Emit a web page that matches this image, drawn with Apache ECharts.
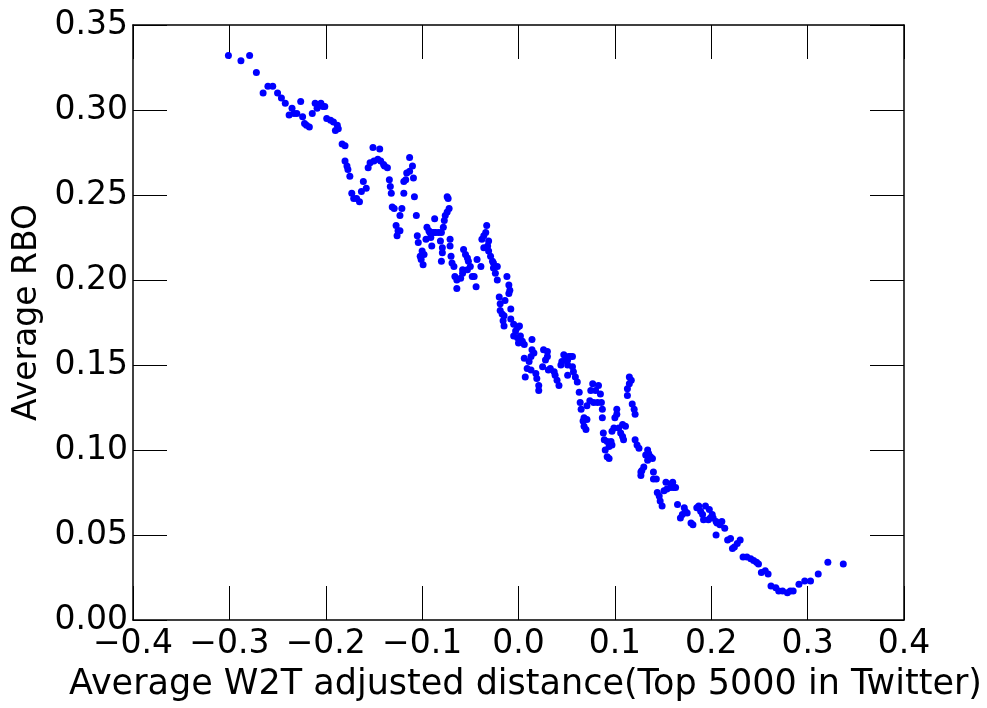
<!DOCTYPE html>
<html>
<head>
<meta charset="utf-8">
<script src="https://cdn.jsdelivr.net/npm/echarts@6/dist/echarts.min.js"></script>
<style>
  html, body { margin: 0; padding: 0; background: #ffffff; }
  #chart { width: 987px; height: 708px; }
</style>
</head>
<body>
<div id="chart"></div>
<script>
// Axis settings / labels
const xTitle = 'Average W2T adjusted distance(Top 5000 in Twitter)';
const yTitle = 'Average RBO';
const xRange = [-0.4, 0.4, 0.1];
const yRange = [0, 0.35, 0.05];

// Data: [x, y] = [Average W2T adjusted distance, Average RBO]
const pointsHigh = [
  [-0.301,0.332],[-0.288,0.329],[-0.279,0.332],[-0.272,0.322],[-0.265,0.310],[-0.260,0.314],[-0.255,0.314],[-0.250,0.310],
  [-0.246,0.307],[-0.242,0.304],[-0.238,0.297],[-0.235,0.301],[-0.233,0.298],[-0.230,0.298],[-0.226,0.305],[-0.224,0.296],
  [-0.222,0.292],[-0.220,0.291],[-0.217,0.290],[-0.214,0.298],[-0.211,0.304],[-0.209,0.301],[-0.205,0.304],[-0.203,0.302],
  [-0.201,0.302],[-0.199,0.295],[-0.195,0.294],[-0.192,0.293],[-0.188,0.291],[-0.187,0.289],[-0.190,0.288],[-0.183,0.280],
  [-0.180,0.279],[-0.180,0.270],[-0.178,0.267],[-0.177,0.265],[-0.175,0.261],[-0.173,0.251],[-0.171,0.248],[-0.168,0.248],
  [-0.165,0.246],[-0.163,0.252],[-0.161,0.258],[-0.158,0.254],[-0.156,0.266],[-0.154,0.269],[-0.151,0.278],[-0.150,0.270],
  [-0.146,0.271],[-0.144,0.277],[-0.143,0.270],[-0.140,0.268],[-0.139,0.267],[-0.136,0.266],[-0.134,0.259],[-0.133,0.255],
  [-0.132,0.251],[-0.131,0.243],[-0.129,0.242],[-0.127,0.232],[-0.125,0.229],[-0.123,0.229],[-0.126,0.226],[-0.123,0.238],
  [-0.121,0.242],[-0.119,0.251],[-0.119,0.258],[-0.117,0.259],[-0.116,0.263],[-0.113,0.264],[-0.110,0.267],[-0.113,0.272],
  [-0.109,0.260],[-0.108,0.249],[-0.106,0.238],[-0.105,0.226],[-0.104,0.222],[-0.102,0.214],[-0.101,0.212],[-0.100,0.217]
];
const pointsMidHigh = [
  [-0.099,0.209],[-0.098,0.215],[-0.096,0.224],[-0.095,0.231],[-0.093,0.229],[-0.092,0.228],[-0.091,0.225],[-0.090,0.220],
  [-0.090,0.228],[-0.088,0.228],[-0.087,0.236],[-0.086,0.228],[-0.083,0.228],[-0.081,0.223],[-0.080,0.228],[-0.080,0.211],
  [-0.079,0.219],[-0.079,0.216],[-0.078,0.231],[-0.077,0.235],[-0.076,0.238],[-0.074,0.240],[-0.072,0.242],[-0.073,0.248],
  [-0.074,0.249],[-0.071,0.224],[-0.071,0.220],[-0.070,0.214],[-0.069,0.210],[-0.067,0.208],[-0.066,0.202],[-0.064,0.200],
  [-0.064,0.195],[-0.060,0.201],[-0.058,0.204],[-0.058,0.206],[-0.057,0.218],[-0.055,0.215],[-0.053,0.213],[-0.053,0.206],
  [-0.052,0.211],[-0.050,0.208],[-0.048,0.202],[-0.046,0.202],[-0.044,0.196],[-0.043,0.212],[-0.039,0.208],[-0.038,0.224],
  [-0.036,0.226],[-0.034,0.228],[-0.033,0.232],[-0.036,0.219],[-0.032,0.220],[-0.031,0.223],[-0.031,0.217],[-0.029,0.214],
  [-0.027,0.211],[-0.026,0.210],[-0.026,0.207],[-0.024,0.204],[-0.022,0.208],[-0.022,0.200],[-0.020,0.190],[-0.019,0.186],
  [-0.019,0.182],[-0.017,0.180],[-0.015,0.179],[-0.016,0.176],[-0.015,0.173],[-0.014,0.188],[-0.012,0.202],[-0.010,0.197],
  [-0.009,0.194],[-0.010,0.192],[-0.008,0.183],[-0.008,0.177],[-0.005,0.174],[-0.001,0.172],[0.001,0.173],[-0.003,0.170],
  [-0.005,0.167],[-0.001,0.166],[0.002,0.167],[0.004,0.164],[0.006,0.162],[0.000,0.163]
];
const pointsMidLow = [
  [0.014,0.165],[0.014,0.159],[0.016,0.157],[0.013,0.155],[0.006,0.154],[0.011,0.152],[0.009,0.148],[0.007,0.143],
  [0.013,0.147],[0.018,0.145],[0.019,0.142],[0.021,0.138],[0.021,0.135],[0.025,0.149],[0.028,0.153],[0.030,0.158],
  [0.026,0.159],[0.030,0.155],[0.031,0.147],[0.033,0.148],[0.037,0.146],[0.038,0.144],[0.040,0.141],[0.042,0.138],
  [0.044,0.150],[0.045,0.152],[0.047,0.156],[0.049,0.154],[0.051,0.153],[0.052,0.155],[0.054,0.155],[0.056,0.155],
  [0.051,0.150],[0.056,0.149],[0.057,0.146],[0.051,0.144],[0.059,0.143],[0.061,0.140],[0.063,0.134],[0.064,0.128],
  [0.065,0.124],[0.068,0.119],[0.071,0.118],[0.067,0.117],[0.068,0.114],[0.070,0.112],[0.071,0.126],[0.074,0.129],
  [0.075,0.135],[0.077,0.139],[0.078,0.128],[0.080,0.135],[0.082,0.128],[0.083,0.138],[0.085,0.133],[0.086,0.128],
  [0.087,0.124],[0.087,0.119],[0.088,0.110],[0.089,0.106],[0.090,0.100],[0.092,0.105],[0.092,0.096],[0.094,0.095],
  [0.094,0.102],[0.096,0.105],[0.097,0.103],[0.097,0.111],[0.099,0.113],[0.100,0.119],[0.102,0.121],[0.102,0.124],
  [0.104,0.113],[0.106,0.110],[0.108,0.115],[0.108,0.108],[0.109,0.106],[0.111,0.114],[0.113,0.132],[0.113,0.136],
  [0.115,0.139],[0.115,0.143],[0.117,0.141],[0.118,0.127],[0.120,0.124],[0.121,0.121],[0.121,0.106],[0.123,0.103]
];
const pointsLow = [
  [0.125,0.101],[0.134,0.100],[0.135,0.098],[0.137,0.096],[0.139,0.095],[0.132,0.097],[0.134,0.094],[0.130,0.090],
  [0.128,0.088],[0.127,0.087],[0.127,0.085],[0.140,0.087],[0.140,0.083],[0.143,0.083],[0.153,0.081],[0.158,0.080],
  [0.160,0.081],[0.161,0.078],[0.163,0.078],[0.158,0.078],[0.154,0.077],[0.151,0.076],[0.144,0.075],[0.146,0.073],
  [0.147,0.070],[0.149,0.067],[0.165,0.068],[0.172,0.066],[0.173,0.064],[0.175,0.063],[0.170,0.062],[0.168,0.060],
  [0.179,0.057],[0.181,0.056],[0.185,0.066],[0.187,0.067],[0.189,0.064],[0.191,0.062],[0.192,0.059],[0.194,0.067],
  [0.197,0.059],[0.198,0.065],[0.199,0.060],[0.201,0.062],[0.202,0.060],[0.205,0.058],[0.206,0.057],[0.209,0.056],
  [0.211,0.058],[0.214,0.054],[0.205,0.050],[0.217,0.047],[0.220,0.048],[0.230,0.047],[0.227,0.045],[0.224,0.043],
  [0.222,0.042],[0.233,0.037],[0.237,0.037],[0.241,0.036],[0.244,0.035],[0.247,0.034],[0.249,0.033],[0.252,0.028],
  [0.256,0.029],[0.259,0.027],[0.262,0.020],[0.267,0.019],[0.270,0.017],[0.274,0.017],[0.279,0.016],[0.282,0.017],
  [0.285,0.017],[0.291,0.021],[0.297,0.023],[0.303,0.023],[0.311,0.027],[0.321,0.034],[0.337,0.033]
];

const allPoints = pointsHigh.concat(pointsMidHigh, pointsMidLow, pointsLow);

const FONT = 'DejaVu Sans';
const minusFmt = (d) => (v) => v.toFixed(d).replace('-', '\u2212');

function xAxisCfg(pos, main) {
  return {
    type: 'value', position: pos, min: xRange[0], max: xRange[1], interval: xRange[2],
    axisLine: { show: true, onZero: false, lineStyle: { color: '#000', width: 1.5 } },
    axisTick: { show: true, inside: true, length: 34, lineStyle: { color: '#000', width: 1 } },
    axisLabel: main ? { show: true, fontSize: 33, fontFamily: FONT, color: '#000', margin: 8, formatter: minusFmt(1) } : { show: false },
    splitLine: { show: false },
    name: main ? xTitle : '', nameLocation: 'middle', nameGap: 47,
    nameTextStyle: { fontSize: 35, fontFamily: FONT, color: '#000', padding: [0, 0, 0, 14] }
  };
}
function yAxisCfg(pos, main) {
  return {
    type: 'value', position: pos, min: yRange[0], max: yRange[1], interval: yRange[2],
    axisLine: { show: true, onZero: false, lineStyle: { color: '#000', width: 1.5 } },
    axisTick: { show: true, inside: true, length: 34, lineStyle: { color: '#000', width: 1 } },
    axisLabel: main ? { show: true, fontSize: 33, fontFamily: FONT, color: '#000', margin: 5, formatter: minusFmt(2) } : { show: false },
    splitLine: { show: false },
    name: main ? yTitle : '', nameLocation: 'middle', nameGap: 88,
    nameTextStyle: { fontSize: 33, fontFamily: FONT, color: '#000', padding: [0, 0, 0, 20] }
  };
}

const chart = echarts.init(document.getElementById('chart'), null, { renderer: 'canvas' });
chart.setOption({
  backgroundColor: '#ffffff',
  animation: false,
  grid: { left: 133, right: 83, top: 25, bottom: 88, containLabel: false },
  xAxis: [xAxisCfg('bottom', true), xAxisCfg('top', false)],
  yAxis: [yAxisCfg('left', true), yAxisCfg('right', false)],
  series: [{
    type: 'scatter',
    xAxisIndex: 0, yAxisIndex: 0,
    data: allPoints,
    symbol: 'circle',
    symbolSize: 7,
    itemStyle: { color: '#0000ff', opacity: 1 }
  }]
});
</script>
</body>
</html>
